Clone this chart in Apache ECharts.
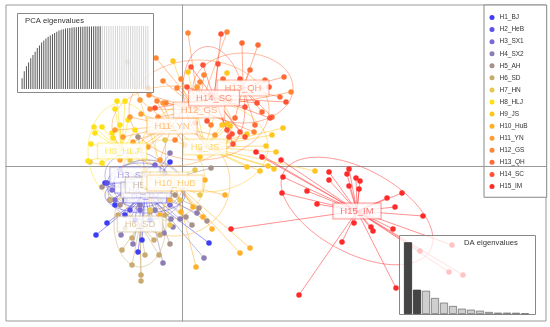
<!DOCTYPE html>
<html><head><meta charset="utf-8">
<script src="https://cdn.jsdelivr.net/npm/echarts@6/dist/echarts.min.js"></script>
<style>html,body{margin:0;padding:0;background:#fff}#c{width:550px;height:327px}</style>
</head><body><div id="c"></div>
<script>
// ---------- data ----------
const groupNames = ['H1_BJ','H2_HeB','H3_SX1','H4_SX2','H5_AH','H6_SD','H7_HN','H8_HLJ','H9_JS','H10_HuB','H11_YN','H12_GS','H13_QH','H14_SC','H15_IM'];
const groupColors = ['#3d3df5','#5a52e6','#7a6ad6','#8c7db5','#a8918a','#c9ab70','#e8c750','#ffe012','#ffc61f','#ffb028','#ff9c35','#ff8436','#ff6a36','#ff5236','#ff2a2a'];
const centroidLD1 = [-3.7,-4.2,-4.7,-3.6,-3.4,-4.2,-1.7,-6.0,2.3,-0.7,-1.0,1.7,6.1,3.2,17.5];
const centroidLD2 = [-2.9,-1.9,-0.9,-2.4,-1.9,-5.8,-1.4,1.5,1.9,-1.7,4.0,5.6,7.8,6.8,-4.5];
const ellipseRx    = [4.0,3.3,3.0,3.8,3.5,2.6,4.0,3.4,6.3,5.5,6.0,7.0,5.0,3.0,8.3];
const ellipseRy    = [1.8,2.2,2.3,3.0,2.5,4.3,4.0,4.8,4.5,5.3,4.0,5.0,3.5,5.2,4.2];
const ellipseAngle = [0,0,0,0,0,0,0,0,0,0,0,0,0,10,-28];

const ptsH1 = [[-8.6,-6.9],[-7.5,-5.7],[-4.0,-7.4],[-4.4,-8.6],[2.7,-7.7],[-1.2,0.4],[-5.7,-4.9],[-3.2,-5.4],[-2.2,-3.4],[-4.7,-2.4],[-6.7,-3.9],[-7.7,-1.7]];
const ptsH2 = [[-7.5,-1.7],[-7.2,-3.4],[-5.2,-4.4],[-2.7,-2.9],[-5.7,-1.9],[-1.7,-2.4],[-3.7,-0.9],[-4.7,-5.4]];
const ptsH3 = [[-7.0,-2.4],[-5.7,-3.4],[-3.2,-2.9],[-2.2,-1.4],[-4.2,-4.4],[-6.2,-0.4],[-2.7,0.1],[-4.7,-2.9],[-1.2,-3.9],[-6.7,-3.4]];
const ptsH4 = [[-6.1,-6.9],[-1.9,-9.7],[-0.9,-6.1],[-0.2,-5.3],[1.5,-4.7],[2.2,-9.2],[-1.1,-5.3],[-1.8,-6.7],[-4.9,-7.8],[-1.2,1.3],[-4.2,-3.9],[-2.7,-4.4],[-5.2,-1.4],[-1.7,-0.9]];
const ptsH5 = [[-8.0,-2.1],[1.0,-5.9],[-1.2,-7.8],[0.4,-5.1],[2.5,-5.5],[1.7,-4.2],[2.9,-0.2],[-4.4,2.9],[-6.2,-3.9],[-2.2,-3.4],[-0.7,-2.9]];
const ptsH6 = [[-5.0,-7.2],[-5.0,-9.9],[-4.1,-10.9],[-4.1,-11.5],[-2.3,-8.9],[-2.8,-7.4],[-5.7,-6.2],[-6.4,-4.9],[-3.2,-4.6],[-1.7,-4.9],[-6.0,-8.4],[-3.7,-8.9],[-7.2,-3.4],[-2.2,-6.9]];
const ptsH7 = [[-5.4,10.4],[-9.2,0.4],[-4.2,1.6],[-1.7,2.6],[1.3,-0.4],[-0.2,-3.4],[-3.2,-4.4],[-5.2,0.6],[1.8,-2.9],[-1.2,-5.9]];
const ptsH8 = [[-6.5,6.5],[-5.7,6.5],[-6.7,5.7],[-5.4,4.6],[-8.8,3.9],[-8.0,3.9],[-7.0,3.3],[-6.9,2.8],[-9.1,2.2],[-9.4,0.5],[-8.0,0.3],[-8.7,3.3],[-6.2,4.1],[-4.7,3.6]];
const ptsH9 = [[10.1,3.8],[9.0,3.1],[8.4,2.0],[9.4,1.4],[6.5,3.2],[4.0,4.1],[4.8,4.0],[6.5,-0.1],[7.8,-0.5],[9.2,-0.3],[8.6,0.0],[13.3,-0.5],[1.8,0.9],[4.5,9.3],[-0.9,10.5],[4.5,4.2],[0.6,9.4]];
const ptsH10 = [[5.8,-8.7],[6.8,-8.2],[1.4,-10.1],[3.0,-6.3],[-0.1,-4.6],[2.1,-5.1],[1.1,-4.1],[4.3,-2.9],[-3.2,-3.4],[-2.2,-4.9],[-4.7,-2.4],[2.3,-1.4],[-1.2,-3.4],[-3.7,-0.4]];
const ptsH11 = [[-4.1,5.2],[-5.9,2.9],[-4.9,2.4],[1.5,7.9],[-5.2,4.9],[-3.4,1.9],[-1.9,6.3],[1.8,1.6],[3.3,3.1],[-6.2,0.6],[-2.2,0.6],[0.3,2.1],[-6.7,3.6],[-4.2,6.6],[0.8,6.1],[-3.4,7.8]];
const ptsH12 = [[0.6,13.3],[4.5,13.4],[-2.6,10.8],[2.2,9.1],[-1.9,8.5],[-0.1,8.7],[1.8,8.4],[-0.5,7.8],[10.9,7.4],[-3.3,7.1],[-2.5,6.5],[-1.6,6.3],[-3.2,5.7],[-2.4,4.9],[7.2,3.4],[2.9,4.1],[1.3,4.3],[4.8,6.6],[-0.7,2.6]];
const ptsH13 = [[6.0,12.3],[7.6,12.1],[4.1,8.7],[10.2,8.9],[9.8,6.9],[9.0,4.9],[8.0,5.4],[6.8,9.6],[4.6,7.6],[8.3,8.6],[5.3,4.8],[2.8,7.1],[7.3,4.1]];
const ptsH14 = [[3.9,13.2],[0.9,9.9],[2.1,10.1],[3.6,10.2],[5.8,8.7],[6.3,5.9],[10.4,6.4],[8.7,7.9],[2.5,4.5],[6.3,2.9],[4.7,2.9],[5.1,2.2],[5.8,3.4],[7.5,6.3],[8.8,4.8],[-2.7,5.8],[0.5,7.9],[5.0,3.2],[4.5,3.6]];
const ptsH15 = [[9.9,0.6],[10.1,-1.1],[10.0,-2.7],[12.5,-2.5],[13.5,-3.8],[14.7,-0.6],[14.7,-1.4],[16.5,-0.8],[16.7,-0.3],[16.7,-2.0],[17.4,-1.2],[17.8,-1.5],[17.7,-2.3],[20.5,-3.2],[22.0,-2.7],[21.3,-4.1],[24.1,-5.0],[21.1,-6.3],[18.9,-6.1],[19.1,-6.5],[17.2,-5.7],[16.0,-7.6],[21.4,-12.2],[11.7,-12.9],[27.0,-7.9],[23.8,-8.5],[26.7,-10.6],[28.1,-10.9],[4.9,-6.3],[7.4,1.4],[8.0,0.9]];

// PCA cumulative variance (%) and number of retained PCs
const pcaCumVar = [17,28,36,42,49,54,59,65,69,74,77,80,83,85,87,89,91,93,94,95,96,96.5,97,97.5,98,98.2,98.5,98.7,99,99.1,99.2,99.3,99.4,99.5,99.6,99.7,99.8,
  99.82,99.85,99.87,99.9,99.92,99.93,99.94,99.95,99.96,99.97,99.97,99.98,99.98,99.99,99.99,99.99,100,100,100,100,100,100];
const pcaRetained = 37;
// DA eigenvalues and number retained
const daEigen = [1420,480,460,317,225,158,105,85,65,40,26,26,24,12];
const daRetained = 2;

// ---------- chart ----------
const groupPoints = [ptsH1,ptsH2,ptsH3,ptsH4,ptsH5,ptsH6,ptsH7,ptsH8,ptsH9,ptsH10,ptsH11,ptsH12,ptsH13,ptsH14,ptsH15];
const ff = '"Liberation Sans", Arial, sans-serif';
function rgba(hex,a){const n=parseInt(hex.slice(1),16);return 'rgba('+((n>>16)&255)+','+((n>>8)&255)+','+(n&255)+','+a+')';}

const chart = echarts.init(document.getElementById('c'));
const series = [];
groupNames.forEach((g,i)=>{
  series.push({type:'lines', coordinateSystem:'cartesian2d', xAxisIndex:0, yAxisIndex:0, z:2, silent:true,
    lineStyle:{color:rgba(groupColors[i],0.65), width:0.8, opacity:1},
    data: groupPoints[i].map(p=>({coords:[p,[centroidLD1[i],centroidLD2[i]]]}))});
});
series.push({type:'custom', coordinateSystem:'cartesian2d', xAxisIndex:0, yAxisIndex:0, z:2, silent:true,
  data: groupNames.map((g,i)=>[centroidLD1[i],centroidLD2[i],ellipseRx[i],ellipseRy[i],ellipseAngle[i]]),
  renderItem:(params,api)=>{
    const cx=api.value(0), cy=api.value(1), rx=api.value(2), ry=api.value(3), a=api.value(4)*Math.PI/180;
    const pts=[];
    for(let k=0;k<90;k++){const t=k/90*2*Math.PI;const ex=rx*Math.cos(t), ey=ry*Math.sin(t);
      pts.push(api.coord([cx+ex*Math.cos(a)-ey*Math.sin(a), cy+ex*Math.sin(a)+ey*Math.cos(a)]));}
    return {type:'polygon', shape:{points:pts}, style:{fill:'none', stroke:rgba(groupColors[params.dataIndex],0.6), lineWidth:0.8}};
  }});
groupNames.forEach((g,i)=>{
  series.push({type:'scatter', name:g, xAxisIndex:0, yAxisIndex:0, z:3, symbolSize:5.5, silent:true,
    itemStyle:{color:groupColors[i], opacity:1}, data:groupPoints[i]});
});
series.push({type:'scatter', xAxisIndex:0, yAxisIndex:0, z:4, symbolSize:0, silent:true,
  data: groupNames.map((g,i)=>({name:g, value:[centroidLD1[i],centroidLD2[i]],
    label:{color:rgba(groupColors[i],0.8), borderColor:rgba(groupColors[i],0.6)}})),
  label:{show:true, position:'inside', formatter:'{b}', fontSize:9.5, fontFamily:ff, backgroundColor:'#fff', borderWidth:1, padding:[3,7,2,7]}});
// PCA inset
series.push({type:'bar', xAxisIndex:1, yAxisIndex:1, z:12, silent:true, barWidth:1,
  data: pcaCumVar.map((v,i)=>({value:v, itemStyle:{color: i<pcaRetained ? '#555' : '#d4d4d4'}}))});
// DA inset
series.push({type:'bar', xAxisIndex:2, yAxisIndex:2, z:12, silent:true, barWidth:8,
  data: daEigen.map((v,i)=>({value:v, itemStyle:{color: i<daRetained ? '#444' : '#cfcfcf', borderColor: i<daRetained ? '#222' : '#666', borderWidth:0.7}}))});

const hiddenCat = n=>({type:'category', data:Array.from({length:n},(_, i)=>i+1), show:false});
chart.setOption({
  animation:false,
  backgroundColor:'#fff',
  grid:[
    {left:6, top:5, width:540, height:316, show:true, borderColor:'#999', borderWidth:1, backgroundColor:'transparent'},
    {left:21, top:26, width:128, height:63},
    {left:403.5, top:235, width:126, height:79}
  ],
  xAxis:[
    {type:'value', gridIndex:0, min:-17.6, max:36.4, z:1.5, axisLine:{show:true, onZero:true, lineStyle:{color:'#999', width:1}}, axisTick:{show:false}, axisLabel:{show:false}, splitLine:{show:false}},
    Object.assign(hiddenCat(pcaCumVar.length),{gridIndex:1}),
    Object.assign(hiddenCat(daEigen.length),{gridIndex:2})
  ],
  yAxis:[
    {type:'value', gridIndex:0, min:-15.5, max:16.1, z:1.5, axisLine:{show:true, onZero:true, lineStyle:{color:'#999', width:1}}, axisTick:{show:false}, axisLabel:{show:false}, splitLine:{show:false}},
    {type:'value', gridIndex:1, min:0, max:100, show:false},
    {type:'value', gridIndex:2, min:0, max:1565, show:false}
  ],
  legend:{data:groupNames, orient:'vertical', left:484, top:5, z:1, padding:[9,19,7.3,5.5], itemWidth:5, itemHeight:5, itemGap:5.07, icon:'circle',
    backgroundColor:'#fff', borderColor:'#888', borderWidth:1, selectedMode:false,
    textStyle:{fontSize:6.5, color:'#333', fontFamily:ff, lineHeight:6}},
  title:[
    {text:'PCA eigenvalues', left:25, top:16, padding:0, z:13, textStyle:{fontSize:7.7, fontWeight:'normal', color:'#333', fontFamily:ff, lineHeight:9}},
    {text:'DA eigenvalues', left:464, top:238, padding:0, z:13, textStyle:{fontSize:7.7, fontWeight:'normal', color:'#333', fontFamily:ff, lineHeight:9}}
  ],
  graphic:[
    {type:'rect', z:10, silent:true, shape:{x:17.5,y:13.5,width:136,height:79}, style:{fill:'rgba(255,255,255,0.72)', stroke:'#888', lineWidth:1}},
    {type:'rect', z:10, silent:true, shape:{x:399.5,y:235.5,width:136,height:79}, style:{fill:'rgba(255,255,255,0.72)', stroke:'#888', lineWidth:1}}
  ],
  series: series
});
</script>
</body></html>
